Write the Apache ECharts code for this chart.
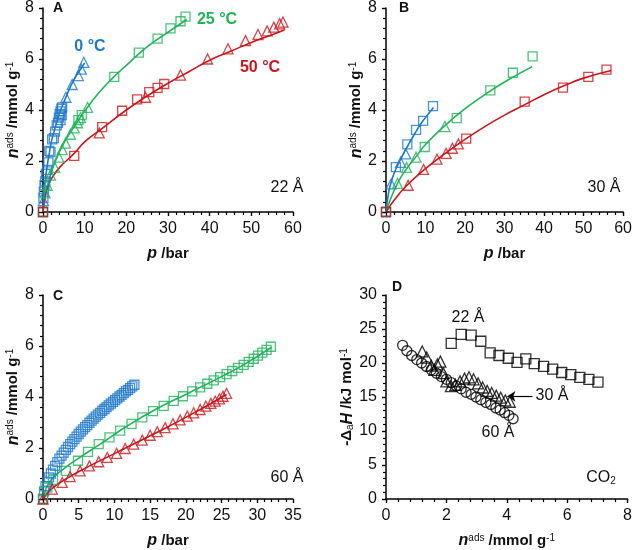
<!DOCTYPE html>
<html><head><meta charset="utf-8">
<script src="https://cdn.jsdelivr.net/npm/echarts@6/dist/echarts.min.js"></script>
<style>html,body{margin:0;padding:0;background:#fff}#c{width:635px;height:550px}</style>
</head><body><div id="c"></div><script>
// ---------- Panel A (22 Å) ----------
const aBlueSq = [[0,0],[0.1,0.55],[0.2,0.8],[0.35,1.05],[0.55,1.2],[0.7,1.5],[1.0,1.65],[1.3,1.95],[1.5,2.4],[1.8,2.35],[2.2,2.85],[2.6,2.9],[2.9,3.15],[3.3,3.4],[3.6,3.5],[3.8,3.7],[4.0,3.85],[4.2,3.95],[4.4,4.05],[4.6,4.1],[4.5,3.8],[4.2,3.6]];
const aBlueTri = [[0.1,0.45],[5.5,4.5],[7.0,5.0],[8.5,5.35],[9.2,5.6],[9.8,5.87]];
const aBlueFit = [[0,0],[0.2,0.7],[0.5,1.2],[1,1.8],[1.5,2.3],[2,2.75],[3,3.35],[4,3.9],[5,4.3],[6,4.7],[7,5.05],[8,5.35],[9,5.6],[10,5.85]];
const aGreenSq = [[0,0],[8.5,3.6],[9.3,3.8],[17.1,5.3],[23,6.25],[27.5,6.8],[30.6,7.2],[33,7.48],[34.2,7.66]];
const aGreenTri = [[0.5,0.75],[1.0,1.05],[1.8,1.45],[2.8,1.75],[3.8,2.15],[4.6,2.45],[5.4,2.7],[6.6,3.05],[7.5,3.3],[8.3,3.5],[9.0,3.7],[10.7,4.1]];
const aGreenFit = [[0,0],[0.5,0.65],[1,1.0],[2,1.55],[3,2.0],[5,2.7],[7.5,3.35],[10,3.95],[13,4.6],[17,5.3],[20,5.75],[23,6.2],[26,6.6],[30,7.05],[34.5,7.55]];
const aRedSq = [[0,0],[7.5,2.2],[14.2,3.33],[19,3.97],[22.6,4.42],[25.5,4.7],[27.5,4.87],[29.1,5.02]];
const aRedTri = [[13.5,3.1],[24.6,4.5],[33,5.37],[39.5,6.0],[44.4,6.4],[48.6,6.72],[51.6,6.96],[53.8,7.1],[55.4,7.25],[56.8,7.38],[57.6,7.45]];
const aRedFit = [[0,0],[0.5,0.6],[1,0.9],[2,1.3],[4,1.75],[7.5,2.3],[10,2.75],[14,3.25],[20,4.0],[25,4.55],[30,5.05],[35,5.5],[40,5.95],[45,6.3],[50,6.65],[55,6.95],[58,7.15]];

// ---------- Panel B (30 Å) ----------
const bBlueSq = [[0,0],[2.5,1.76],[5.4,2.65],[7.6,3.22],[9.4,3.57],[11.9,4.15]];
const bBlueTri = [[1.3,1.1],[3.7,1.95],[5.0,2.28]];
const bBlueFit = [[0,0],[0.5,0.6],[1,1.0],[2,1.5],[3,1.85],[5,2.45],[7,3.0],[9,3.5],[11,3.9],[12,4.1]];
const bGreenSq = [[0,0],[9.8,2.55],[17.9,3.68],[26.4,4.77],[32.1,5.46],[37.1,6.1]];
const bGreenTri = [[2.9,1.12],[5.2,1.75],[7.6,2.15],[14.9,3.35]];
const bGreenFit = [[0,0],[1,0.45],[3,1.15],[5,1.65],[8,2.25],[10,2.65],[15,3.4],[20,4.05],[25,4.6],[30,5.1],[37,5.7]];
const bRedSq = [[0,0],[20.3,2.88],[35.1,4.33],[44.8,4.88],[51.2,5.3],[55.8,5.58]];
const bRedTri = [[5.6,1.05],[9.5,1.67],[12.9,2.07],[15.2,2.3],[16.8,2.5],[18.3,2.67]];
const bRedFit = [[0,0],[2,0.45],[5,1.0],[10,1.7],[15,2.3],[20,2.85],[25,3.35],[30,3.8],[35,4.2],[40,4.6],[45,4.95],[50,5.25],[57,5.55]];

// ---------- Panel C (60 Å) ----------
const cBlueP = [0,0.15,0.35,0.6,0.85,1.1,1.4,1.7,2.0,2.3,2.6,2.9,3.2,3.5,3.8,4.1,4.4,4.7,5.0,5.3,5.6,5.9,6.2,6.5,6.8,7.1,7.4,7.7,8.0,8.3,8.6,8.9,9.2,9.5,9.8,10.1,10.4,10.7,11.0,11.3,11.6,11.9,12.2,12.5,12.8];
const cBlueN = [0,0.3,0.5,0.68,0.85,1.0,1.15,1.3,1.45,1.58,1.7,1.82,1.93,2.04,2.15,2.25,2.35,2.45,2.55,2.64,2.73,2.82,2.9,2.99,3.07,3.15,3.23,3.31,3.38,3.46,3.53,3.6,3.67,3.74,3.81,3.88,3.95,4.02,4.08,4.15,4.22,4.28,4.35,4.42,4.48];
const cGreenSq = [[0,0],[0.6,0.45],[1.4,0.75],[3.2,1.1],[4.9,1.5],[6.3,1.85],[7.8,2.15],[9.3,2.42],[10.8,2.68],[12.4,2.95],[13.9,3.2],[15.4,3.45],[16.9,3.65],[18.3,3.85],[19.6,4.03],[20.9,4.22],[22.0,4.38],[23.0,4.52],[23.9,4.65],[24.8,4.78],[25.7,4.9],[26.5,5.02],[27.3,5.14],[28.1,5.26],[28.8,5.38],[29.5,5.5],[30.1,5.62],[30.7,5.74],[31.3,5.85],[31.9,5.97]];
const cGreenFit = [[0,0],[1,0.7],[3,1.2],[5,1.6],[8,2.15],[12,2.9],[16,3.55],[20,4.1],[25,4.8],[28,5.25],[32,5.95]];
const cRedTri = [[0,0],[1.3,0.39],[2.7,0.65],[3.8,0.88],[5.2,1.1],[6.5,1.3],[7.8,1.46],[9,1.63],[10.3,1.79],[11.5,1.98],[12.7,2.15],[13.9,2.31],[15,2.5],[16,2.64],[17.1,2.8],[18.2,2.95],[19.2,3.1],[20.2,3.25],[21.1,3.38],[22,3.51],[22.8,3.64],[23.5,3.75],[24.1,3.84],[24.7,3.93],[25.2,4.03],[25.7,4.14]];
const cRedFit = [[0,0],[1,0.35],[3,0.75],[6,1.22],[10,1.78],[15,2.48],[20,3.2],[25.7,4.1]];

// ---------- Panel D (heat of adsorption, CO2) ----------
const d22 = [[2.16,22.9],[2.49,24.2],[2.82,24.1],[3.14,23.2],[3.45,21.5],[3.74,21.1],[4.05,20.7],[4.34,20.1],[4.63,20.6],[4.91,19.9],[5.22,19.5],[5.52,19.1],[5.82,18.6],[6.12,18.3],[6.42,17.9],[6.72,17.6],[7.02,17.2]];
const d30 = [[1.2,21.7],[1.35,20.8],[1.5,19.6],[1.6,19.0],[1.7,19.8],[1.8,20.2],[1.9,18.5],[2.0,17.3],[2.15,16.6],[2.3,16.8],[2.45,17.3],[2.6,17.7],[2.75,17.9],[2.9,17.6],[3.05,17.0],[3.2,16.4],[3.35,15.9],[3.5,15.6],[3.65,15.2],[3.8,14.9],[3.95,14.5],[4.1,14.3]];
const d60 = [[0.55,22.6],[0.69,21.8],[0.85,21.1],[1.02,20.5],[1.18,20.0],[1.34,19.5],[1.5,19.0],[1.67,18.5],[1.83,18.0],[2.0,17.6],[2.16,17.1],[2.33,16.6],[2.49,16.2],[2.65,15.7],[2.82,15.4],[2.98,15.0],[3.14,14.6],[3.31,14.2],[3.47,13.9],[3.64,13.4],[3.78,13.1],[3.93,12.7],[4.07,12.3],[4.21,11.8]];
const dArrow = [[4.85,15.1],[4.02,15.1]];

// ---------- Axes ticks ----------
const pTicksAB = {min:0, max:60, interval:10};
const pTicksC = {min:0, max:35, interval:5};
const nTicks = {min:0, max:8, interval:2};
const hTicks = {min:0, max:30, interval:5};

const BLUE = '#1f78c8', GREEN = '#22b25a', RED = '#c8161d', BLK = '#111';
const FF = '"Liberation Sans", Arial, sans-serif';

const grids = [
  {left:43, top:7, width:250, height:205},
  {left:386, top:7, width:241, height:205},
  {left:43, top:295, width:250, height:205},
  {left:386, top:295, width:244, height:205}
];

const richN = {
  n:{fontStyle:'italic', fontWeight:'bold', fontSize:16, fontFamily:FF, color:BLK},
  t:{fontWeight:'bold', fontSize:15, fontFamily:FF, color:BLK},
  sup:{fontSize:10, fontFamily:FF, color:BLK, verticalAlign:'top'},
  sub:{fontSize:10, fontFamily:FF, color:BLK, verticalAlign:'bottom'}
};
const nName = '{n|n}{sup|ads}{t| /mmol g}{sup|-1}';
const pName = '{n|p}{t| /bar}';
const hName = '{t|-Δ}{sub|a}{n|H}{t| /kJ mol}{sup|-1}';

function axis(gi, t, name, isX) {
  return Object.assign({
    gridIndex: gi, type:'value', position: isX ? 'bottom' : 'left',
    splitLine:{show:false},
    axisLine:{show:true, onZero:false, lineStyle:{color:'#000', width:1.5}},
    axisTick:{show:true, inside:false, length:4, lineStyle:{color:'#000', width:1.4}},
    minorTick:{show:true, splitNumber:5, length:3, lineStyle:{color:'#000', width:1.2}},
    axisLabel:{fontSize:16, fontFamily:FF, color:BLK, margin:9, showMaxLabel:true},
    name: name, nameLocation:'middle', nameGap: isX ? 34 : 19,
    nameTextStyle:{rich: richN}
  }, t);
}
const xAxes = [axis(0, pTicksAB, pName, true), axis(1, pTicksAB, pName, true), axis(2, pTicksC, pName, true), axis(3, nTicks, nName, true)];
const yAxes = [axis(0, nTicks, nName, false), axis(1, nTicks, nName, false), axis(2, nTicks, nName, false), axis(3, hTicks, hName, false)];

function ax(gi){ return {xAxisIndex: gi, yAxisIndex: gi}; }
function sc(gi, data, sym, color, size){
  return Object.assign({type:'scatter', data, symbol:sym, symbolSize:size||9, z:3,
    itemStyle:{color:'rgba(255,255,255,0)', borderColor:color, borderWidth:1.3}}, ax(gi));
}
function fit(gi, data, color){
  return Object.assign({type:'line', data, smooth:true, showSymbol:false, symbol:'none', z:2,
    lineStyle:{color, width:1.6}}, ax(gi));
}

const cBlue = cBlueP.map((p,i)=>[p, cBlueN[i]]);

const series = [
  fit(0, aBlueFit, BLUE), fit(0, aGreenFit, GREEN), fit(0, aRedFit, RED),
  sc(0, aBlueSq, 'rect', BLUE), sc(0, aBlueTri, 'triangle', BLUE, 10),
  sc(0, aGreenSq, 'rect', GREEN), sc(0, aGreenTri, 'triangle', GREEN, 10),
  sc(0, aRedSq, 'rect', RED), sc(0, aRedTri, 'triangle', RED, 10),

  fit(1, bBlueFit, BLUE), fit(1, bGreenFit, GREEN), fit(1, bRedFit, RED),
  sc(1, bBlueSq, 'rect', BLUE), sc(1, bBlueTri, 'triangle', BLUE, 10),
  sc(1, bGreenSq, 'rect', GREEN), sc(1, bGreenTri, 'triangle', GREEN, 10),
  sc(1, bRedSq, 'rect', RED), sc(1, bRedTri, 'triangle', RED, 10),

  fit(2, cGreenFit, GREEN), fit(2, cRedFit, RED),
  sc(2, cBlue, 'rect', BLUE), sc(2, cGreenSq, 'rect', GREEN), sc(2, cRedTri, 'triangle', RED, 10),

  sc(3, d22, 'rect', '#000', 10), sc(3, d30, 'triangle', '#000', 11), sc(3, d60, 'circle', '#000', 10),
  Object.assign({type:'line', data:[], markLine:{silent:true, symbol:['none','arrow'], symbolSize:8,
    lineStyle:{color:'#000', width:1.2, type:'solid'}, label:{show:false},
    data:[[{coord:dArrow[0]},{coord:dArrow[1]}]]}}, ax(3))
];

function txt(x, y, text, opts){
  return {type:'text', x, y, z:10, style:Object.assign({text, fontSize:16, fontFamily:FF, fill:BLK,
    align:'center', verticalAlign:'middle'}, opts||{})};
}
const graphic = [
  txt(58,8,'A',{fontWeight:'bold', fontSize:14}),
  txt(404,8,'B',{fontWeight:'bold', fontSize:14}),
  txt(58,296,'C',{fontWeight:'bold', fontSize:14}),
  txt(397,287,'D',{fontWeight:'bold', fontSize:14}),
  txt(90,47,'0 °C',{fontWeight:'bold', fill:BLUE}),
  txt(217,20,'25 °C',{fontWeight:'bold', fill:GREEN}),
  txt(260,68,'50 °C',{fontWeight:'bold', fill:RED}),
  txt(287,188,'22 Å'),
  txt(604,188,'30 Å'),
  txt(287,478,'60 Å'),
  txt(468,318,'22 Å'),
  txt(552,396,'30 Å'),
  txt(498,433,'60 Å'),
  {type:'text', x:601, y:478, z:10, style:{text:'{a|CO}{b|2}', align:'center', verticalAlign:'middle',
    rich:{a:{fontSize:16, fontFamily:FF, fill:BLK, color:BLK}, b:{fontSize:10, fontFamily:FF, fill:BLK, color:BLK, verticalAlign:'bottom'}}}}
];

const chart = echarts.init(document.getElementById('c'), null, {renderer:'canvas'});
chart.setOption({
  backgroundColor:'#fff', animation:false,
  grid: grids, xAxis: xAxes, yAxis: yAxes, series, graphic
});
</script></body></html>
